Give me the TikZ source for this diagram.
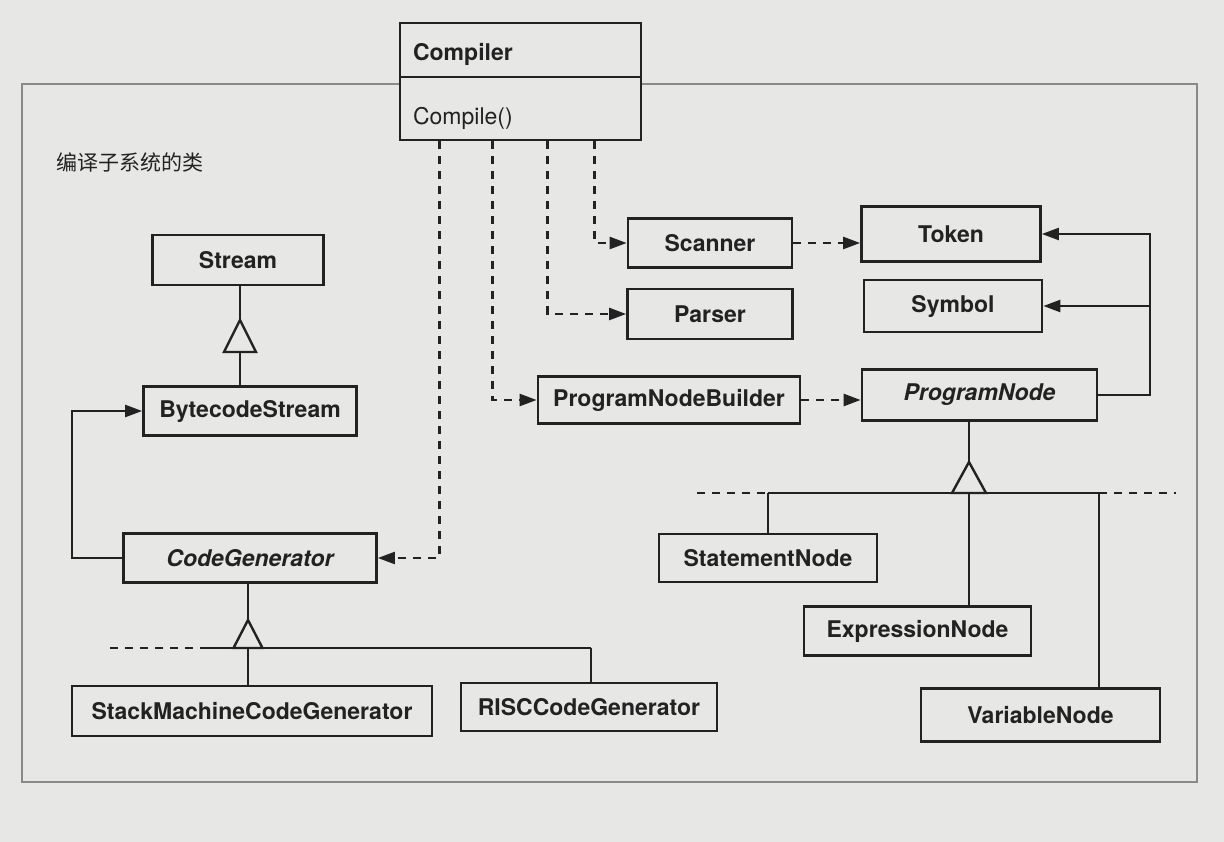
\documentclass[tikz,border=0pt]{standalone}
\usepackage{fontspec}
\setmainfont{TeX Gyre Heros}
\newfontfamily\cjkfont{Noto Sans CJK SC}
\usetikzlibrary{arrows.meta,calc}
\definecolor{bg}{HTML}{E7E7E5}
\definecolor{ink}{HTML}{222222}
\definecolor{framec}{HTML}{8A8A8A}
\tikzset{
  cls/.style={draw=ink, fill=bg, line width=2.7pt, inner sep=0pt, text=ink,
    font=\fontsize{23}{27}\selectfont\bfseries},
  abscls/.style={cls, font=\fontsize{23}{27}\selectfont\bfseries\itshape},
  conn/.style={draw=ink, line width=2.4pt},
  dep/.style={conn, dash pattern=on 8pt off 7pt},
  tip/.style={-{Triangle[length=17pt,width=12pt]}},
  gen/.style={draw=ink, fill=bg, line width=2.4pt, line join=miter},
}
\begin{document}
\begin{tikzpicture}[x=1pt,y=-1pt]
\useasboundingbox[fill=bg] (0,0) rectangle (1224,842);
% subsystem frame
\draw[framec, line width=1.4pt] (22,84) rectangle (1197,782);
\node[anchor=west, text=ink, font=\cjkfont\fontsize{21}{25}\selectfont] (lbl) at (53,162) {编译子系统的类};

% Compiler
\node[cls, minimum width=241pt, text height=38pt, text depth=16pt, text width=215pt, align=left] (comp) at (520.5,50) {Compiler};
\node[cls, minimum width=241pt, text height=48pt, text depth=15pt, text width=215pt, align=left,
  font=\fontsize{23}{27}\selectfont] (compop) at (520.5,108.5) {Compile()};

% classes
\node[cls, minimum width=171pt, minimum height=50pt] (stream) at (238,260) {Stream};
\node[cls, minimum width=213pt, minimum height=49pt] (bstream) at (250,411) {BytecodeStream};
\node[abscls, minimum width=253pt, minimum height=49pt] (codegen) at (250,558) {CodeGenerator};
\node[cls, minimum width=360pt, minimum height=50pt] (stack) at (252,711) {StackMachineCodeGenerator};
\node[cls, minimum width=256pt, minimum height=48pt] (risc) at (589,707) {RISCCodeGenerator};
\node[cls, minimum width=164pt, minimum height=49pt] (scanner) at (710,243) {Scanner};
\node[cls, minimum width=165pt, minimum height=50pt] (parser) at (710,314) {Parser};
\node[cls, minimum width=262pt, minimum height=47pt] (pnb) at (669,400) {ProgramNodeBuilder};
\node[cls, minimum width=179pt, minimum height=55pt] (token) at (951,234) {Token};
\node[cls, minimum width=178pt, minimum height=52pt] (symbol) at (953,306) {Symbol};
\node[abscls, minimum width=235pt, minimum height=51pt] (prognode) at (979.5,395) {ProgramNode};
\node[cls, minimum width=218pt, minimum height=48pt] (stmt) at (768,558) {StatementNode};
\node[cls, minimum width=227pt, minimum height=49pt] (expr) at (917.5,631) {ExpressionNode};
\node[cls, minimum width=239pt, minimum height=53pt] (var) at (1040.5,715) {VariableNode};

% dependencies from Compiler
\coordinate (d1) at ([xshift=41pt]compop.south west);
\coordinate (d2) at ([xshift=94pt]compop.south west);
\coordinate (d3) at ([xshift=149pt]compop.south west);
\coordinate (d4) at ([xshift=196pt]compop.south west);
\draw[dep, tip] (d4) |- (scanner.west);
\draw[dep, tip] (d3) |- (parser.west);
\draw[dep, tip] (d2) |- (pnb.west);
\draw[dep, tip] (d1) |- (codegen.east);
\draw[dep, tip] (scanner.east) -- (scanner.east -| token.west);
\draw[dep, tip] (pnb.east) -- (pnb.east -| prognode.west);

% ProgramNode -> Token, Symbol
\coordinate (rt) at (1150,395);
\draw[conn, tip] (prognode.east) -- (rt) |- (token.east);
\draw[conn, tip] (rt |- symbol.east) -- (symbol.east);

% CodeGenerator -> BytecodeStream
\coordinate (lx) at (72,558);
\draw[conn, tip] (codegen.west) -- (lx) |- (bstream.west);

% Stream generalisation
\coordinate (sa) at (240,320);
\draw[conn] (stream.south -| sa) -- (sa);
\draw[conn] (bstream.north -| sa) -- ($(sa)+(0,32)$);
\draw[gen] (sa) -- ++(-16,32) -- ++(32,0) -- cycle;

% CodeGenerator generalisation
\coordinate (ca) at (248,620);
\coordinate (cb) at (248,648);
\draw[conn] (codegen.south -| ca) -- (ca);
\draw[conn] (203,648) coordinate (cl) -- (591,648) coordinate (cr);
\draw[conn] (cr) -- (cr |- risc.north);
\draw[conn] (cb) -- (cb |- stack.north);
\draw[dep] (110,648) coordinate (cd) -- (cl);
\draw[gen] (ca) -- ++(-14.5,28) -- ++(29,0) -- cycle;

% ProgramNode generalisation
\coordinate (pa) at (969,462);
\coordinate (pb) at (969,493);
\draw[conn] (prognode.south -| pa) -- (pa);
\draw[conn] (768,493) coordinate (pl) -- (1099,493) coordinate (pr);
\draw[conn] (pl) -- (pl |- stmt.north);
\draw[conn] (pb) -- (pb |- expr.north);
\draw[conn] (pr) -- (pr |- var.north);
\draw[dep] (697,493) coordinate (pdl) -- (pl);
\draw[dep] (pr) -- (1176,493) coordinate (pdr);
\draw[gen] (pa) -- ++(-17,31) -- ++(34,0) -- cycle;
\end{tikzpicture}
\end{document}
